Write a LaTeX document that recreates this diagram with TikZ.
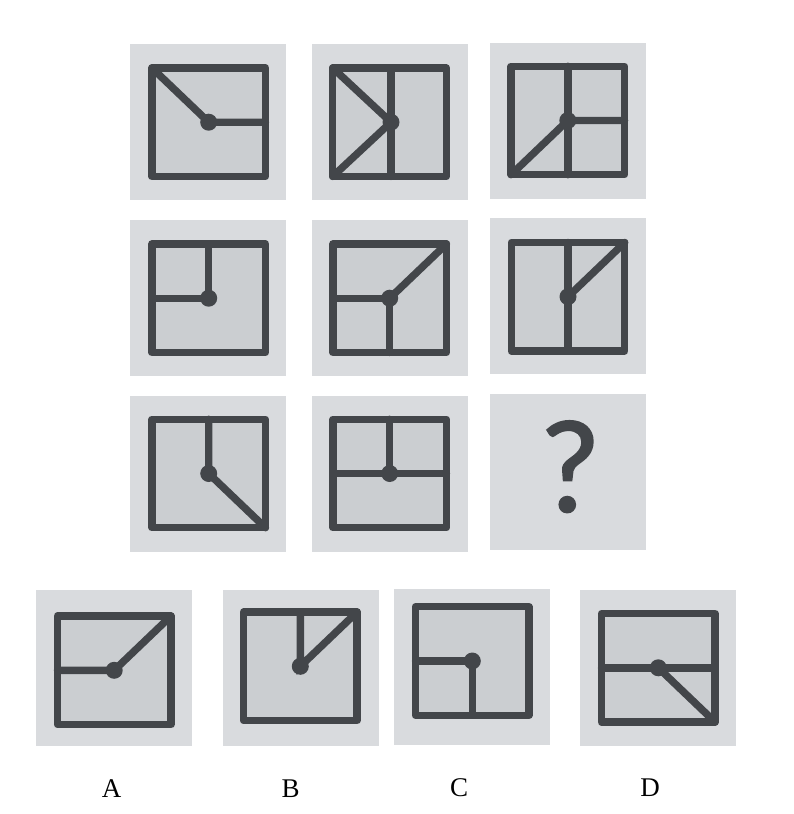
\documentclass[tikz,border=0pt]{standalone}
\usepackage{fontspec}
\setmainfont{Liberation Serif}
\newfontfamily\qfont[FakeBold=1.6]{Lato}
\definecolor{tilegray}{HTML}{D9DBDE}
\definecolor{panelgray}{HTML}{CBCED1}
\definecolor{ink}{HTML}{43464A}

\begin{document}
\begin{tikzpicture}[
    x=1pt, y=-1pt,
    tile/.style={rectangle, fill=tilegray, minimum size=156pt, inner sep=0pt, outer sep=0pt},
    panel/.style={rectangle, draw=ink, fill=panelgray, line width=7.4pt, line join=round,
        minimum width=113.5pt, minimum height=108.5pt, inner sep=0pt, outer sep=0pt},
    wire/.style={draw=ink, line width=7.4pt, line cap=round},
    hub/.style={circle, fill=ink, minimum size=17pt, inner sep=0pt, outer sep=0pt},
    letter/.style={font=\fontsize{27}{30}\selectfont, inner sep=0pt}
]
    \useasboundingbox (0,0) rectangle (793,814);

    % Tiles
    \node[tile] (t1) at (208.3,122.3) {};
    \node[tile] (t2) at (389.7,122.3) {};
    \node[tile] (t3) at (568.0,120.8) {};
    \node[tile] (t4) at (208.3,298.3) {};
    \node[tile] (t5) at (389.7,297.8) {};
    \node[tile] (t6) at (567.8,296.3) {};
    \node[tile] (t7) at (208.3,473.7) {};
    \node[tile] (t8) at (389.7,473.7) {};
    \node[tile] (t9) at (567.5,471.7) {};
    \node[tile] (tA) at (114.2,667.5) {};
    \node[tile] (tB) at (300.5,667.5) {};
    \node[tile] (tC) at (472.2,667.2) {};
    \node[tile] (tD) at (658.3,668.3) {};

    % Panels
    \node[panel] (f1) at (208.7,122.2) {};
    \node[panel] (f2) at (389.5,122.2) {};
    \node[panel] (f3) at (567.8,120.5) {};
    \node[panel] (f4) at (208.7,298.2) {};
    \node[panel] (f5) at (389.7,298.2) {};
    \node[panel] (f6) at (568.0,296.7) {};
    \node[panel] (f7) at (208.7,473.5) {};
    \node[panel] (f8) at (389.7,473.5) {};
    \node[panel] (fA) at (114.2,670.3) {};
    \node[panel] (fB) at (300.3,666.3) {};
    \node[panel] (fC) at (472.3,661.0) {};
    \node[panel] (fD) at (658.3,667.8) {};

    % Hubs
    \node[hub] (h1) at (f1.center) {};
    \node[hub] (h2) at ([xshift=1.5pt]f2.center) {};
    \node[hub] (h3) at (f3.center) {};
    \node[hub] (h4) at (f4.center) {};
    \node[hub] (h5) at (f5.center) {};
    \node[hub] (h6) at (f6.center) {};
    \node[hub] (h7) at (f7.center) {};
    \node[hub] (h8) at (f8.center) {};
    \node[hub] (hA) at (fA.center) {};
    \node[hub] (hB) at (fB.center) {};
    \node[hub] (hC) at (fC.center) {};
    \node[hub] (hD) at (fD.center) {};

    % Spokes
    \draw[wire] (f1.north west) -- (h1.center) -- (f1.east);
    \draw[wire] (f2.north west) -- (h2.center) -- (f2.south west);
    \draw[wire] (h2.center |- f2.north) -- (h2.center |- f2.south);
    \draw[wire] (f3.north) -- (f3.south);
    \draw[wire] (f3.south west) -- (h3.center) -- (f3.east);
    \draw[wire] (f4.north) -- (h4.center) -- (f4.west);
    \draw[wire] (f5.west) -- (h5.center) -- (f5.south);
    \draw[wire] (h5.center) -- (f5.north east);
    \draw[wire] (f6.north) -- (f6.south);
    \draw[wire] (h6.center) -- (f6.north east);
    \draw[wire] (f7.north) -- (h7.center) -- (f7.south east);
    \draw[wire] (f8.north) -- (h8.center);
    \draw[wire] (f8.west) -- (f8.east);
    \draw[wire] (fA.west) -- (hA.center) -- (fA.north east);
    \draw[wire] (fB.north) -- (hB.center) -- (fB.north east);
    \draw[wire] (fC.west) -- (hC.center) -- (fC.south);
    \draw[wire] (fD.west) -- (fD.east);
    \draw[wire] (hD.center) -- (fD.south east);

    % Question and labels
    \node[inner sep=0pt, text=ink, font=\qfont\fontsize{125}{130}\selectfont] (q) at (570.2,466.7) {?};
    \node[letter] (lA) at (111.7,788.3) {A};
    \node[letter] (lB) at (290.7,788.3) {B};
    \node[letter] (lC) at (459.0,787.3) {C};
    \node[letter] (lD) at (650.0,787.3) {D};
\end{tikzpicture}
\end{document}
